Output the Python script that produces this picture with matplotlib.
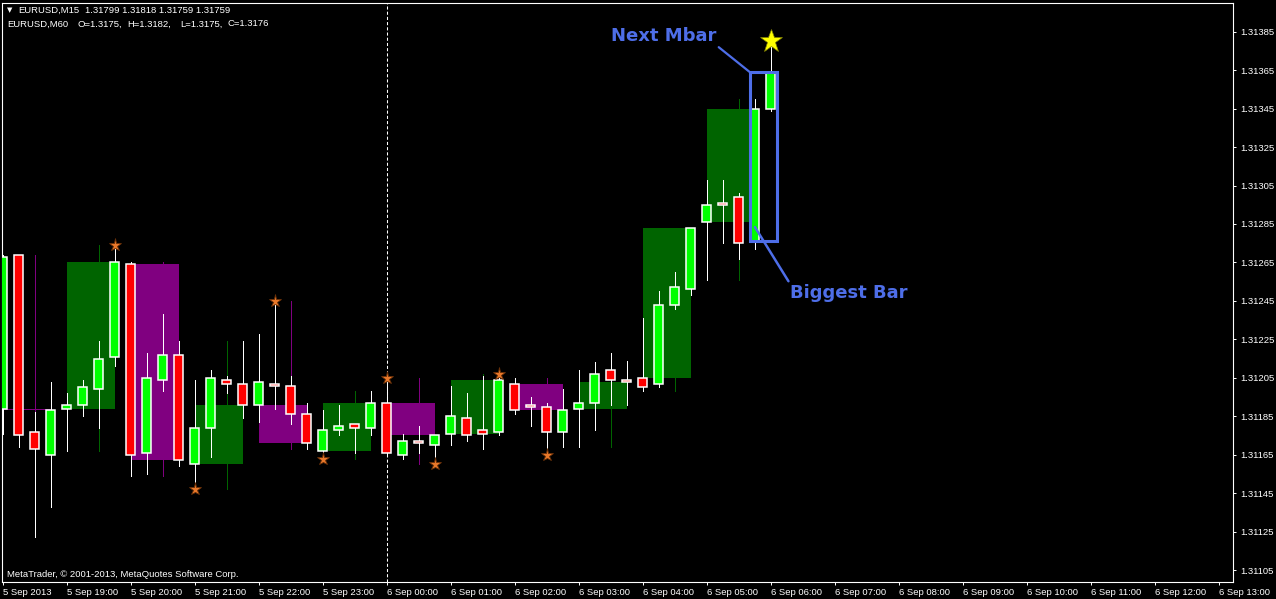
import numpy as np
import matplotlib.pyplot as plt
from matplotlib.patches import Rectangle
from matplotlib.transforms import offset_copy

plt.rcParams['font.family'] = ['Liberation Sans', 'DejaVu Sans']

# EURUSD M15 bars, 5 Sep 2013 18:00 -> 6 Sep 06:00
opens = [1.31189, 1.31269, 1.31177, 1.31165, 1.31189, 1.31191, 1.31199, 1.31216,
         1.31264, 1.31166, 1.31204, 1.31217, 1.31160, 1.31179, 1.31204, 1.31202,
         1.31191, 1.31202, 1.31201, 1.31186, 1.31167, 1.31178, 1.31181, 1.31179,
         1.31192, 1.31165, 1.31172, 1.31170, 1.31176, 1.31184, 1.31178, 1.31177,
         1.31202, 1.31191, 1.31190, 1.31177, 1.31189, 1.31192, 1.31209, 1.31204,
         1.31205, 1.31202, 1.31243, 1.31251, 1.31286, 1.31296, 1.31299, 1.31276,
         1.31345]
highs = [1.31269, 1.31269, 1.31187, 1.31203, 1.31197, 1.31204, 1.31224, 1.31274,
         1.31265, 1.31218, 1.31238, 1.31224, 1.31204, 1.31209, 1.31206, 1.31224,
         1.31228, 1.31245, 1.31206, 1.31192, 1.31188, 1.31191, 1.31181, 1.31198,
         1.31205, 1.31176, 1.31180, 1.31175, 1.31201, 1.31197, 1.31206, 1.31207,
         1.31205, 1.31195, 1.31192, 1.31199, 1.31209, 1.31213, 1.31218, 1.31214,
         1.31236, 1.31250, 1.31260, 1.31283, 1.31308, 1.31308, 1.31301, 1.31350,
         1.31378]
lows = [1.31176, 1.31169, 1.31122, 1.31138, 1.31167, 1.31185, 1.31179, 1.31211,
        1.31154, 1.31155, 1.31198, 1.31159, 1.31147, 1.31164, 1.31197, 1.31184,
        1.31182, 1.31189, 1.31181, 1.31168, 1.31163, 1.31175, 1.31166, 1.31175,
        1.31165, 1.31163, 1.31166, 1.31160, 1.31170, 1.31172, 1.31168, 1.31175,
        1.31186, 1.31180, 1.31165, 1.31169, 1.31169, 1.31178, 1.31191, 1.31191,
        1.31198, 1.31200, 1.31241, 1.31248, 1.31256, 1.31275, 1.31267, 1.31272,
        1.31344]
closes = [1.31268, 1.31175, 1.31168, 1.31188, 1.31191, 1.31200, 1.31215, 1.31265,
          1.31165, 1.31205, 1.31217, 1.31162, 1.31179, 1.31205, 1.31202, 1.31191,
          1.31203, 1.31201, 1.31186, 1.31171, 1.31178, 1.31180, 1.31179, 1.31192,
          1.31166, 1.31172, 1.31171, 1.31175, 1.31185, 1.31175, 1.31176, 1.31204,
          1.31188, 1.31190, 1.31177, 1.31188, 1.31192, 1.31207, 1.31204, 1.31203,
          1.31200, 1.31243, 1.31252, 1.31283, 1.31295, 1.31295, 1.31275, 1.31345,
          1.31364]

# fractal stars (bar index)
star_high = [7, 17, 24, 31]
star_low = [12, 20, 27, 34]
biggest_bar = 47
next_bar = 48

time_labels = ['5 Sep 2013', '5 Sep 19:00', '5 Sep 20:00', '5 Sep 21:00', '5 Sep 22:00',
               '5 Sep 23:00', '6 Sep 00:00', '6 Sep 01:00', '6 Sep 02:00', '6 Sep 03:00',
               '6 Sep 04:00', '6 Sep 05:00', '6 Sep 06:00', '6 Sep 07:00', '6 Sep 08:00',
               '6 Sep 09:00', '6 Sep 10:00', '6 Sep 11:00', '6 Sep 12:00', '6 Sep 13:00']
price_ticks = [1.31105, 1.31125, 1.31145, 1.31165, 1.31185, 1.31205, 1.31225, 1.31245,
               1.31265, 1.31285, 1.31305, 1.31325, 1.31345, 1.31365, 1.31385]

bull = '#00ff00'
bear = '#ff0000'
h1_bull = '#006400'
h1_bear = '#800080'
blue = '#4e6ee8'

W, H = 1276, 599
fig = plt.figure(figsize=(W / 100, H / 100), dpi=100, facecolor='black')
ax = fig.add_axes([2.5 / W, 17 / H, 1230.8 / W, 579.5 / H], facecolor='black')

n = len(opens)

# H1 boxes built from the M15 bars (complete hours only)
for s in range(0, n - 3, 4):
    o = opens[s]
    c = closes[s + 3]
    hi = max(highs[s:s + 4])
    lo = min(lows[s:s + 4])
    col = h1_bull if c >= o else h1_bear
    ax.add_patch(Rectangle((s, min(o, c)), 3, abs(c - o), facecolor=col,
                           edgecolor='none', zorder=1))
    ax.vlines(s + 2, lo, hi, color=col, lw=0.72, zorder=1.2, antialiased=False)

# day separator
day_bar = time_labels.index('6 Sep 00:00') * 4
ax.axvline(day_bar, color='white', lw=0.75, dashes=(3, 2), zorder=0.5)

# M15 candles
bw = 0.56
for i in range(n):
    o, h, l, c = opens[i], highs[i], lows[i], closes[i]
    ax.vlines(i, l, h, color='white', lw=0.72, zorder=2, antialiased=False)
    col = bull if c > o else bear
    ax.add_patch(Rectangle((i - bw / 2, min(o, c)), bw, max(abs(c - o), 1e-6),
                           facecolor=col, edgecolor='white', lw=1.1, zorder=3))

# fractal stars
ax.plot(star_high, [highs[i] for i in star_high], ls='none', marker='*', ms=9.5,
        mfc='#e8782a', mec='#6a3008', mew=0.6, zorder=4)
ax.plot(star_low, [lows[i] for i in star_low], ls='none', marker='*', ms=9.5,
        mfc='#e8782a', mec='#6a3008', mew=0.6, zorder=4)

# yellow star over the next Mbar
up = offset_copy(ax.transData, fig=fig, x=0, y=4, units='dots')
ax.plot([next_bar], [highs[next_bar]], ls='none', marker='*', ms=17,
        mfc='#ffff00', mec='#808000', mew=0.5, transform=up, zorder=5)

# box around biggest bar + next bar
box_lo = min(opens[biggest_bar], closes[biggest_bar], opens[next_bar], closes[next_bar])
box_hi = max(opens[biggest_bar], closes[biggest_bar], opens[next_bar], closes[next_bar])
bx0 = biggest_bar - 0.32
bx1 = next_bar + 0.38
ax.add_patch(Rectangle((bx0, box_lo), bx1 - bx0, box_hi - box_lo, facecolor='none',
                       edgecolor=blue, lw=2.2, zorder=6))

ax.annotate('Next Mbar', xy=(bx0, box_hi), xytext=(41.27, 1.313802),
            ha='center', va='baseline', color=blue, fontsize=13, fontweight='bold',
            family='DejaVu Sans',
            arrowprops=dict(arrowstyle='-', color=blue, lw=1.6, shrinkA=0, shrinkB=0,
                            relpos=(1, 0)), zorder=7)
ax.annotate('Biggest Bar', xy=(biggest_bar, 1.312834), xytext=(52.875, 1.312465),
            ha='center', va='baseline', color=blue, fontsize=13, fontweight='bold',
            family='DejaVu Sans',
            arrowprops=dict(arrowstyle='-', color=blue, lw=1.8, shrinkA=0, shrinkB=0,
                            relpos=(0, 1)), zorder=7)

ax.set_xlim(-0.03, 76.9)
ax.set_ylim(1.310988, 1.314002)

for sp in ax.spines.values():
    sp.set_color('white')
    sp.set_linewidth(0.8)

ax.yaxis.tick_right()
ax.set_yticks(price_ticks)
ax.set_yticklabels(['%.5f' % p for p in price_ticks])
ax.set_xticks(range(0, 4 * len(time_labels), 4))
ax.set_xticklabels(time_labels, ha='left')
ax.tick_params(axis='both', colors='white', labelsize=6.8, length=2.5, width=0.7)
ax.tick_params(axis='y', pad=2.5)
ax.tick_params(axis='x', pad=1.5)


# header and footer texts
def ftext(px, py, s, size=6.8, **kw):
    fig.text(px / W, 1 - py / H, s, color='white', fontsize=size, va='center', **kw)


ftext(7, 10.5, '\u25bc', size=5, family='DejaVu Sans')
ftext(18.3, 10.5, 'EURUSD,M15')
ftext(85, 10.5, '1.31799 1.31818 1.31759 1.31759')
ftext(7.3, 24, 'EURUSD,M60')
ftext(77, 24, 'O=1.3175,')
ftext(127.7, 24, 'H=1.3182,')
ftext(180, 24, 'L=1.3175,')
ftext(227.7, 24, 'C=1.3176')
ftext(7.3, 574.3, 'MetaTrader, \u00a9 2001-2013, MetaQuotes Software Corp.')

fig.savefig('out.png', dpi=100, facecolor='black')
